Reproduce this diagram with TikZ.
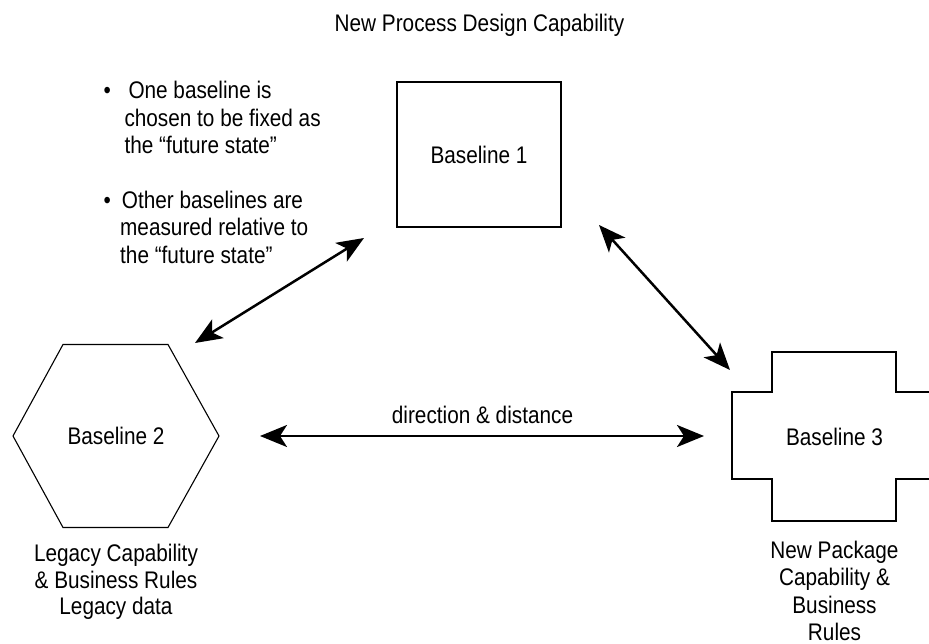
\documentclass[tikz,border=0pt]{standalone}
\usepackage{fontspec}
\setmainfont[FakeStretch=0.865]{Liberation Sans}
\usetikzlibrary{arrows.meta}
\tikzset{
  txt/.style={inner sep=0pt, font=\fontsize{24}{27}\selectfont},
  shapeline/.style={draw=black, line width=1.1pt, line join=miter},
  link/.style={line width=2.5pt,
    {Stealth[length=27pt,width=22pt,inset=7pt]}-{Stealth[length=27pt,width=22pt,inset=7pt]}},
}
\begin{document}
\begin{tikzpicture}[x=1pt,y=-1pt]
\useasboundingbox (0,0) rectangle (929,644);
\clip (0,0) rectangle (929,644);
\fill[white] (0,0) rectangle (929,644);

% title
\node[txt, anchor=base] (title) at (479.5,32) {New Process Design Capability};

% Baseline 1 (square)
\node[shapeline, txt, rectangle, minimum width=164pt, minimum height=145pt] (b1) at (479,154.5) {Baseline 1};

% Baseline 2 (hexagon)
\draw[shapeline] (13,436) -- (63,344.5) -- (168,344.5) -- (219,436) -- (168,527.5) -- (63,527.5) -- cycle;
\node[txt] (b2) at (116,436) {Baseline 2};

% Baseline 3 (cross)
\draw[shapeline] (732,392) -- (772,392) -- (772,352) -- (896,352) -- (896,392) -- (936,392)
  -- (936,479) -- (896,479) -- (896,521) -- (772,521) -- (772,479) -- (732,479) -- cycle;
\node[txt] (b3) at (834.5,436.5) {Baseline 3};

% bullets
\node[txt, anchor=base west] (bu1) at (103.5,99) {•};
\node[txt, anchor=base west] (t1) at (128.3,99) {One baseline is};
\node[txt, anchor=base west] (t2) at (124.3,126.5) {chosen to be fixed as};
\node[txt, anchor=base west] (t3) at (124.3,154) {the “future state”};
\node[txt, anchor=base west] (bu2) at (103.5,208.3) {•};
\node[txt, anchor=base west] (t4) at (121.7,208.3) {Other baselines are};
\node[txt, anchor=base west] (t5) at (120,235.7) {measured relative to};
\node[txt, anchor=base west] (t6) at (120,263.3) {the “future state”};

% labels under shapes
\node[txt, anchor=base] (l2a) at (116,561.5) {Legacy Capability};
\node[txt, anchor=base] (l2b) at (116,588) {\& Business Rules};
\node[txt, anchor=base] (l2c) at (116,614.5) {Legacy data};

\node[txt, anchor=base] (l3a) at (834.5,558.3) {New Package};
\node[txt, anchor=base] (l3b) at (834.5,585) {Capability \&};
\node[txt, anchor=base] (l3c) at (834.5,613) {Business};
\node[txt, anchor=base] (l3d) at (834.5,640) {Rules};

% arrows
\coordinate (a1s) at (195,343);
\coordinate (a1e) at (364,238);
\coordinate (a2s) at (599,225);
\coordinate (a2e) at (730,370);
\coordinate (a3s) at (260,436);
\coordinate (a3e) at (704,436);
\draw[link] (a1s) -- (a1e);
\draw[link] (a2s) -- (a2e);
\draw[link] (a3s) -- (a3e);
\node[txt, anchor=base] (dd) at (482.5,423) {direction \& distance};
\end{tikzpicture}
\end{document}
